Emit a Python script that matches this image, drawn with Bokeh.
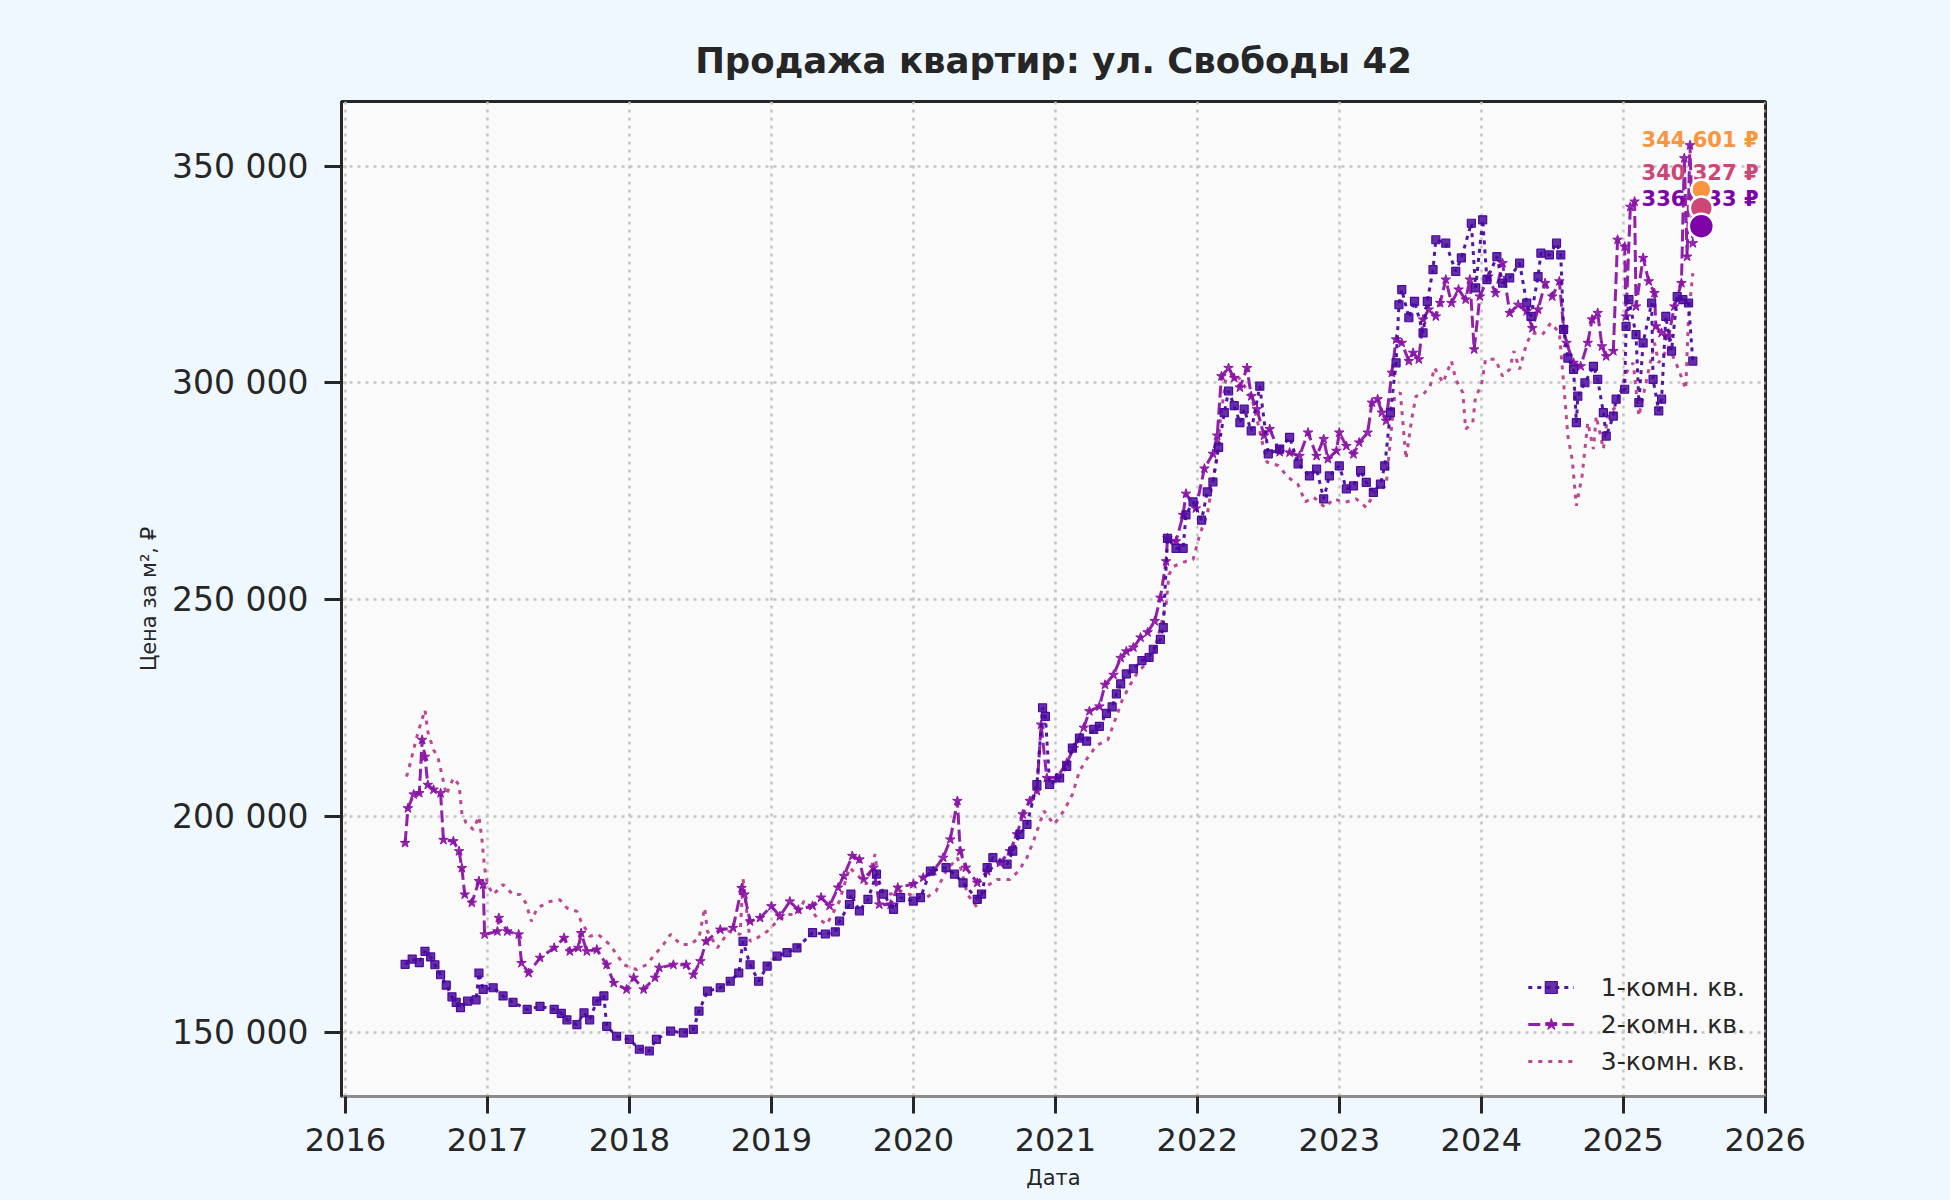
from bokeh.plotting import figure
from bokeh.models import (FixedTicker, CustomJSTickFormatter, Range1d, Legend,
                          LegendItem, ColumnDataSource)
from bokeh.embed import file_html
from bokeh.resources import INLINE
from bokeh.core.properties import value

# ---------------- data (decimal year, rubles per m2) ----------------
t1 = [2016.42, 2016.47, 2016.52, 2016.56, 2016.60, 2016.63, 2016.67, 2016.71, 2016.75, 2016.78,
      2016.81, 2016.86, 2016.92, 2016.94, 2016.97, 2017.04, 2017.11, 2017.18, 2017.28, 2017.37,
      2017.47, 2017.52, 2017.56, 2017.63, 2017.68, 2017.72, 2017.77, 2017.82, 2017.84, 2017.91,
      2018.00, 2018.07, 2018.14, 2018.19, 2018.29, 2018.38, 2018.45, 2018.49, 2018.55, 2018.64,
      2018.71, 2018.77, 2018.80, 2018.85, 2018.91, 2018.97, 2019.04, 2019.11, 2019.18, 2019.29,
      2019.38, 2019.45, 2019.48, 2019.55, 2019.56, 2019.62, 2019.68, 2019.74, 2019.79, 2019.86,
      2019.91, 2020.00, 2020.05, 2020.12, 2020.23, 2020.29, 2020.35, 2020.45, 2020.48, 2020.52,
      2020.56, 2020.66, 2020.70, 2020.75, 2020.80, 2020.87, 2020.91, 2020.93, 2020.96, 2021.03,
      2021.08, 2021.12, 2021.17, 2021.22, 2021.27, 2021.31, 2021.36, 2021.40, 2021.43, 2021.46,
      2021.50, 2021.55, 2021.61, 2021.66, 2021.69, 2021.74, 2021.76, 2021.79, 2021.85, 2021.90,
      2021.92, 2021.97, 2022.03, 2022.07, 2022.11, 2022.15, 2022.19, 2022.22, 2022.26, 2022.30,
      2022.33, 2022.38, 2022.44, 2022.50, 2022.58, 2022.65, 2022.71, 2022.79, 2022.84, 2022.89,
      2022.93, 2023.00, 2023.05, 2023.10, 2023.15, 2023.19, 2023.24, 2023.29, 2023.32, 2023.36,
      2023.40, 2023.42, 2023.44, 2023.49, 2023.53, 2023.59, 2023.62, 2023.66, 2023.68, 2023.75,
      2023.82, 2023.86, 2023.93, 2023.96, 2024.01, 2024.04, 2024.11, 2024.15, 2024.20, 2024.27,
      2024.32, 2024.35, 2024.40, 2024.42, 2024.48, 2024.53, 2024.56, 2024.58, 2024.61, 2024.65,
      2024.67, 2024.68, 2024.73, 2024.79, 2024.82, 2024.86, 2024.88, 2024.93, 2024.95, 2025.01,
      2025.02, 2025.04, 2025.09, 2025.11, 2025.14, 2025.20, 2025.21, 2025.25, 2025.27, 2025.30,
      2025.34, 2025.38, 2025.42, 2025.46, 2025.49]
v1 = [165800, 167000, 166200, 168800, 167500, 165700, 163400, 161000, 158300, 157000,
      155800, 157300, 157600, 163800, 160000, 160400, 158500, 157000, 155400, 156100,
      155400, 154500, 153000, 151900, 154600, 153000, 157300, 158500, 151500, 149200,
      148500, 146200, 145800, 148500, 150400, 150000, 150800, 155000, 159600, 160400,
      161900, 163800, 171100, 165700, 161900, 165400, 167700, 168500, 169600, 173100,
      172800, 173300, 175800, 179600, 182000, 178100, 180800, 186600, 182000, 178500,
      181200, 180400, 181200, 187300, 188100, 186600, 184600, 180800, 182000, 188100,
      190400, 188900, 191900, 195800, 198100, 207300, 225000, 223000, 207300, 208800,
      211500, 215700, 218000, 217300, 220000, 220700, 223700, 225200, 228200, 230500,
      232800, 234000, 235900, 236600, 238500, 240800, 243500, 264100, 261800, 261800,
      269500, 272500, 268300, 274800, 277100, 285100, 293100, 298100, 294700, 290800,
      293900, 288900, 299200, 283600, 284700, 287400, 281300, 278500, 280100, 273200,
      278500, 280800, 275500, 276200, 279700, 277000, 274700, 276600, 280800, 293100,
      304600, 318000, 321500, 315000, 318800, 311500, 318800, 326100, 333000, 332200,
      325700, 328800, 336800, 321900, 337600, 323800, 329100, 323000, 324200, 327600,
      318400, 315300, 324500, 329900, 329500, 332200, 329500, 312300, 305700, 303100,
      290800, 296900, 300000, 303800, 300800, 293100, 287700, 292300, 296200, 298500,
      313000, 319200, 311100, 295400, 309200, 318400, 300800, 293500, 296200, 315300,
      307300, 319900, 319200, 318400, 305000]

t2 = [2016.42, 2016.44, 2016.48, 2016.52, 2016.54, 2016.56, 2016.58, 2016.62, 2016.67, 2016.69,
      2016.76, 2016.80, 2016.82, 2016.84, 2016.89, 2016.94, 2016.97, 2016.98, 2017.07, 2017.08,
      2017.14, 2017.22, 2017.24, 2017.29, 2017.37, 2017.47, 2017.54, 2017.58, 2017.64, 2017.66,
      2017.70, 2017.77, 2017.84, 2017.89, 2017.98, 2018.03, 2018.10, 2018.18, 2018.21, 2018.31,
      2018.40, 2018.45, 2018.50, 2018.54, 2018.64, 2018.73, 2018.79, 2018.81, 2018.85, 2018.92,
      2019.00, 2019.06, 2019.13, 2019.19, 2019.29, 2019.35, 2019.41, 2019.47, 2019.51, 2019.57,
      2019.62, 2019.65, 2019.72, 2019.76, 2019.84, 2019.89, 2020.00, 2020.07, 2020.14, 2020.21,
      2020.26, 2020.31, 2020.33, 2020.37, 2020.45, 2020.52, 2020.61, 2020.68, 2020.73, 2020.77,
      2020.82, 2020.87, 2020.90, 2020.94, 2021.01, 2021.08, 2021.13, 2021.20, 2021.24, 2021.31,
      2021.35, 2021.41, 2021.46, 2021.50, 2021.55, 2021.60, 2021.65, 2021.70, 2021.74, 2021.78,
      2021.79, 2021.85, 2021.90, 2021.92, 2021.99, 2022.05, 2022.11, 2022.14, 2022.17, 2022.22,
      2022.26, 2022.30, 2022.35, 2022.38, 2022.42, 2022.47, 2022.51, 2022.58, 2022.65, 2022.72,
      2022.78, 2022.84, 2022.89, 2022.92, 2022.98, 2023.00, 2023.05, 2023.10, 2023.14, 2023.20,
      2023.23, 2023.27, 2023.30, 2023.33, 2023.37, 2023.40, 2023.44, 2023.49, 2023.52, 2023.56,
      2023.59, 2023.63, 2023.68, 2023.71, 2023.75, 2023.79, 2023.84, 2023.89, 2023.92, 2023.95,
      2023.99, 2024.05, 2024.10, 2024.15, 2024.20, 2024.26, 2024.32, 2024.36, 2024.40, 2024.45,
      2024.50, 2024.55, 2024.58, 2024.60, 2024.65, 2024.70, 2024.75, 2024.78, 2024.82, 2024.85,
      2024.88, 2024.93, 2024.96, 2025.01, 2025.02, 2025.05, 2025.08, 2025.09, 2025.14, 2025.18,
      2025.22, 2025.23, 2025.27, 2025.32, 2025.36, 2025.41, 2025.43, 2025.45, 2025.47, 2025.49]
v2 = [193800, 201800, 205000, 205300, 217600, 213700, 207200, 206100, 205300, 194500,
      194200, 191900, 188000, 181900, 180000, 185000, 184200, 172700, 173400, 176500,
      173400, 172700, 166100, 163800, 167300, 169600, 171900, 168800, 169600, 173000,
      168800, 169200, 165700, 161500, 160000, 162700, 160000, 162700, 165000, 165700,
      165700, 163400, 166500, 171100, 173800, 174200, 183400, 181900, 175700, 176500,
      179200, 176900, 180300, 178400, 179300, 181200, 179300, 183500, 186200, 190800,
      190000, 185400, 188100, 179600, 179600, 183500, 184300, 185800, 187300, 190400,
      194600, 203500, 191900, 188100, 184600, 187300, 189200, 191900, 195800, 200400,
      203500, 205800, 221100, 208800, 208800, 212300, 215700, 220400, 224200, 225300,
      230300, 232600, 236500, 238000, 238900, 241200, 242400, 245000, 250400, 258800,
      264100, 263400, 269500, 274400, 271000, 280200, 283600, 287800, 301500, 303400,
      301100, 298900, 303400, 296900, 293900, 287800, 289300, 284000, 283900, 283100,
      288500, 283100, 287000, 282400, 284300, 288500, 285400, 283500, 286200, 288500,
      295400, 296200, 293100, 291200, 302300, 310000, 309200, 305000, 306900, 305400,
      314600, 316900, 315300, 318400, 323800, 318400, 321500, 319200, 323800, 307700,
      319900, 324500, 320700, 327600, 316100, 318000, 316500, 312600, 316900, 323000,
      319900, 323400, 312600, 309200, 304600, 303800, 309200, 314600, 316100, 308400,
      306100, 307300, 333000, 331400, 315300, 340600, 341800, 317600, 328800, 323400,
      320700, 313000, 311500, 310700, 317600, 323000, 351800, 329100, 354800, 332200]

t3 = [2016.43, 2016.45, 2016.50, 2016.52, 2016.56, 2016.58, 2016.62, 2016.65, 2016.68, 2016.71,
      2016.76, 2016.80, 2016.82, 2016.85, 2016.90, 2016.94, 2016.96, 2016.98, 2017.00, 2017.04,
      2017.11, 2017.18, 2017.23, 2017.27, 2017.31, 2017.35, 2017.44, 2017.51, 2017.56, 2017.63,
      2017.66, 2017.72, 2017.78, 2017.86, 2017.91, 2017.96, 2018.05, 2018.12, 2018.18, 2018.24,
      2018.29, 2018.36, 2018.43, 2018.49, 2018.53, 2018.55, 2018.62, 2018.70, 2018.78, 2018.80,
      2018.85, 2018.90, 2018.97, 2019.04, 2019.11, 2019.18, 2019.23, 2019.32, 2019.39, 2019.48,
      2019.55, 2019.60, 2019.67, 2019.73, 2019.76, 2019.84, 2019.91, 2020.00, 2020.09, 2020.16,
      2020.23, 2020.31, 2020.34, 2020.38, 2020.45, 2020.52, 2020.59, 2020.68, 2020.74, 2020.80,
      2020.85, 2020.92, 2020.99, 2021.06, 2021.12, 2021.17, 2021.22, 2021.29, 2021.37, 2021.42,
      2021.47, 2021.53, 2021.58, 2021.64, 2021.69, 2021.74, 2021.78, 2021.80, 2021.83, 2021.92,
      2021.97, 2022.02, 2022.07, 2022.10, 2022.14, 2022.16, 2022.20, 2022.26, 2022.30, 2022.38,
      2022.42, 2022.49, 2022.57, 2022.64, 2022.71, 2022.76, 2022.82, 2022.90, 2022.96, 2023.04,
      2023.12, 2023.19, 2023.25, 2023.33, 2023.36, 2023.39, 2023.43, 2023.47, 2023.51, 2023.54,
      2023.59, 2023.64, 2023.67, 2023.73, 2023.79, 2023.82, 2023.87, 2023.89, 2023.94, 2023.96,
      2024.00, 2024.03, 2024.10, 2024.15, 2024.20, 2024.23, 2024.27, 2024.32, 2024.36, 2024.43,
      2024.49, 2024.55, 2024.58, 2024.61, 2024.64, 2024.67, 2024.71, 2024.75, 2024.79, 2024.81,
      2024.86, 2024.89, 2024.95, 2025.02, 2025.07, 2025.11, 2025.16, 2025.22, 2025.25, 2025.32,
      2025.39, 2025.44, 2025.46, 2025.49]
v3 = [209100, 211400, 218000, 220300, 224500, 219500, 215300, 213700, 209500, 204900,
      208800, 207200, 200700, 198400, 196900, 199900, 194900, 188000, 184200, 181900,
      184200, 181900, 181900, 180000, 175700, 178800, 180300, 180700, 178800, 178000,
      175700, 172300, 172700, 170400, 168100, 165700, 164600, 165700, 168100, 170400,
      172700, 170400, 170400, 171900, 178800, 173400, 169600, 173400, 172700, 185700,
      171100, 171900, 173400, 175700, 177300, 177300, 180400, 176600, 175000, 180400,
      188100, 186600, 184300, 191200, 182700, 182000, 182700, 181600, 181200, 182700,
      187300, 190400, 187300, 182000, 178900, 183900, 185400, 185400, 187300, 190400,
      194600, 201200, 198100, 201200, 205000, 210400, 213100, 216300, 217600, 222100,
      226700, 230500, 233200, 235200, 237400, 243500, 248900, 255700, 257600, 258800,
      259200, 265300, 269500, 275600, 283200, 290800, 300800, 302300, 300800, 296900,
      291600, 281700, 280900, 278200, 276500, 272500, 273600, 271200, 273200, 272400,
      273200, 271200, 274700, 276200, 287000, 296900, 297700, 282400, 291600, 296900,
      297300, 299200, 303500, 300000, 305000, 300800, 297700, 289300, 290800, 296900,
      299200, 305400, 305400, 301500, 303100, 307300, 303100, 309200, 311500, 311100,
      313800, 311500, 300000, 287700, 282400, 271600, 278500, 290800, 284700, 292300,
      284700, 292300, 294600, 302300, 304600, 292300, 300000, 309200, 304600, 308400,
      303100, 298500, 315300, 325300]

series_names = ["1-комн. кв.", "2-комн. кв.", "3-комн. кв."]
x_ticks = [2016, 2017, 2018, 2019, 2020, 2021, 2022, 2023, 2024, 2025, 2026]
y_ticks = [150000, 200000, 250000, 300000, 350000]

end_date = 2025.55
end_values = [344601, 340327, 336133]

# ---------------- styles / layout ----------------
FONT = "DejaVu Sans"
DARK = "#262626"
BG = "#f0f8ff"
col1, col2, col3 = "#4a0a9e", "#8b14a6", "#bb3d8e"
end_colors = ["#f89540", "#cc4778", "#7e03a8"]
end_sizes = [20, 23, 25]
end_label_lift_px = [50, 35, 27]

W, H = 1942, 1192
FL, FT, FR, FB = 341, 101, 1765, 1099
X0, X1 = 2015.972, 2026.002
Y0, Y1 = 135300, 364900

p = figure(width=W, height=H, output_backend="svg", toolbar_location=None,
           x_range=Range1d(X0, X1), y_range=Range1d(Y0, Y1),
           min_border_left=FL, min_border_right=W - FR,
           min_border_top=FT, min_border_bottom=H - FB,
           background_fill_color="#fafafa", border_fill_color=BG)

p.title.text = "Продажа квартир: ул. Свободы 42"
p.title.align = "center"
p.title.text_font = FONT
p.title.text_font_size = "35.5px"
p.title.text_font_style = "bold"
p.title.text_color = DARK
p.title.standoff = 42

p.outline_line_color = DARK
p.outline_line_width = 3

for ax in (p.xaxis[0], p.yaxis[0]):
    ax.major_label_text_font = FONT
    ax.major_label_text_color = DARK
    ax.axis_label_text_font = FONT
    ax.axis_label_text_font_size = "21px"
    ax.axis_label_text_font_style = "normal"
    ax.axis_label_text_color = DARK
    ax.major_tick_line_color = DARK
    ax.major_tick_line_width = 3
    ax.major_tick_out = 17
    ax.major_tick_in = 0
    ax.minor_tick_line_color = None

p.xaxis[0].ticker = FixedTicker(ticks=x_ticks)
p.xaxis[0].formatter = CustomJSTickFormatter(code="return tick.toFixed(0);")
p.xaxis[0].axis_label = "Дата"
p.xaxis[0].major_label_text_font_size = "32px"
p.xaxis[0].axis_line_color = "#8c8c8c"
p.xaxis[0].axis_line_width = 3
p.xaxis[0].major_label_standoff = 14
p.xaxis[0].axis_label_standoff = 12

p.yaxis[0].ticker = FixedTicker(ticks=y_ticks)
p.yaxis[0].formatter = CustomJSTickFormatter(
    code="return Math.round(tick).toString().replace(/\\B(?=(\\d{3})+(?!\\d))/g, ' ');")
p.yaxis[0].axis_label = "Цена за м², ₽"
p.yaxis[0].major_label_text_font_size = "33px"
p.yaxis[0].axis_line_color = DARK
p.yaxis[0].axis_line_width = 3
p.yaxis[0].major_label_standoff = 16
p.yaxis[0].axis_label_standoff = 8

p.xgrid.ticker = FixedTicker(ticks=x_ticks)
p.ygrid.ticker = FixedTicker(ticks=y_ticks)
for g in (p.xgrid[0], p.ygrid[0]):
    g.grid_line_color = "#c4c4c4"
    g.grid_line_width = 2.5
    g.grid_line_dash = "3 5"

s1 = ColumnDataSource(dict(x=t1, y=v1))
s2 = ColumnDataSource(dict(x=t2, y=v2))
s3 = ColumnDataSource(dict(x=t3, y=v3))

l3 = p.line("x", "y", source=s3, line_color=col3, line_width=3, line_dash="4 6", line_alpha=0.95)
l2 = p.line("x", "y", source=s2, line_color=col2, line_width=3, line_dash="12 5", line_alpha=0.95)
m2 = p.scatter("x", "y", source=s2, marker="star", size=10, fill_color=col2, fill_alpha=0.9,
               line_color=col2, line_width=1)
l1 = p.line("x", "y", source=s1, line_color=col1, line_width=3, line_dash="4 5", line_alpha=0.95)
m1 = p.scatter("x", "y", source=s1, marker="square", size=8, fill_color=col1, fill_alpha=0.85,
               line_color=col1, line_width=1.2)

# end-of-series annotations
y_per_px = (Y1 - Y0) / (FB - FT)
x_per_px = (X1 - X0) / (FR - FL)
lab_src = ColumnDataSource(dict(
    x=[X1 - 7 * x_per_px] * len(end_values),
    y=[v + lift * y_per_px for v, lift in zip(end_values, end_label_lift_px)],
    text=[f"{v:,}".replace(",", " ") + " ₽" for v in end_values],
    color=end_colors))
p.text("x", "y", text="text", source=lab_src, text_color="color", text_align="right",
       text_baseline="middle", text_font=value(FONT), text_font_size="21px",
       text_font_style="bold")
dot_src = ColumnDataSource(dict(x=[end_date] * len(end_values), y=end_values,
                                color=end_colors, size=end_sizes))
p.scatter("x", "y", source=dot_src, size="size", fill_color="color", line_color="white",
          line_width=2.5)

legend = Legend(items=[LegendItem(label=series_names[0], renderers=[l1, m1]),
                       LegendItem(label=series_names[1], renderers=[l2, m2]),
                       LegendItem(label=series_names[2], renderers=[l3])],
                location="bottom_right", orientation="vertical",
                label_text_font=FONT, label_text_font_size="25px", label_text_color=DARK,
                glyph_width=46, glyph_height=30, label_height=30, spacing=7,
                label_standoff=27, padding=8, margin=12,
                border_line_alpha=0, background_fill_alpha=0)
p.add_layout(legend)

html = file_html(p, INLINE)
html = html.replace("</head>", "<style>html, body { background-color: %s; }</style></head>" % BG, 1)
open("out.html", "w").write(html)
